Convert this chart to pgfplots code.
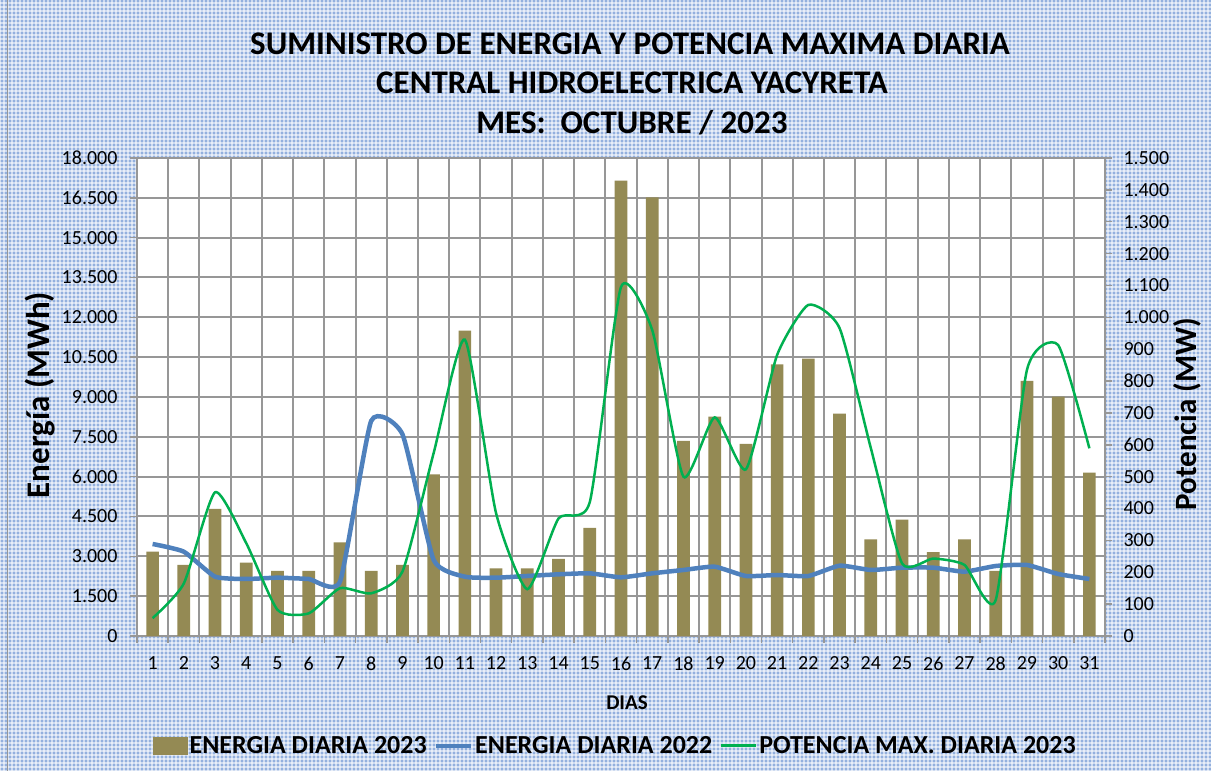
\documentclass[border=0pt]{standalone}
\usepackage{pgfplots}
\pgfplotsset{compat=1.18}
\usepackage{fontspec}
\setmainfont{Carlito}
\definecolor{barc}{HTML}{948A54}
\definecolor{blu}{HTML}{4F81BD}
\definecolor{grn}{HTML}{00B050}
\definecolor{gridc}{HTML}{979797}
\definecolor{bgblue}{HTML}{93B0DE}
\pgfplotstableread{
d e23 e22 p23
1 3175 3465 56
2 2674 3175 165
3 4783 2234 451
4 2761 2147 291
5 2448 2196 82
6 2448 2147 71
7 3528 2045 150
8 2448 8100 134
9 2674 7600 202
10 6089 2862 574
11 11500 2234 930
12 2549 2196 385
13 2549 2260 147
14 2900 2323 369
15 4067 2360 420
16 17150 2210 1095
17 16520 2360 960
18 7344 2486 500
19 8260 2610 686
20 7231 2260 523
21 10232 2297 882
22 10444 2260 1039
23 8373 2648 966
24 3640 2486 590
25 4381 2573 228
26 3163 2573 243
27 3640 2423 223
28 2448 2636 113
29 9603 2674 835
30 9013 2335 913
31 6150 2147 589
}\datatable
\begin{document}
\begin{tikzpicture}[x=1pt,y=1pt]
\fill[bgblue] (0,0) rectangle (1211,771);
\foreach \x in {0,4,...,1211} \draw[white, line width=1.2pt, opacity=0.55] (\x,0) -- (\x,771);
\foreach \y in {0,4,...,771} \draw[white, line width=1.2pt, opacity=0.55] (0,\y) -- (1211,\y);
\draw[gridc, line width=1pt] (7,0) -- (7,771);
\begin{axis}[
  at={(137pt,135pt)}, anchor=south west,
  width=968pt, height=478pt, scale only axis,
  xmin=0.5, xmax=31.5, ymin=0, ymax=18000,
  axis background/.style={fill=white},
  axis x line*=bottom, axis y line*=left,
  axis line style={gridc, line width=1.5pt},
  xtick={1,...,31},
  major x tick style={draw=none},
  minor xtick={0.5,1.5,...,31.5},
  xminorgrids, minor x grid style={gridc, line width=2pt},
  ytick={0,1500,...,18000},
  ymajorgrids, major y grid style={gridc, line width=2pt},
  tick align=outside,
  major tick length=7pt, minor tick length=7pt,
  tick style={gridc, line width=1.5pt},
  scaled y ticks=false,
  /pgf/number format/assume math mode=true,
  yticklabel={\pgfmathprintnumber[fixed,precision=0,1000 sep={.}]{\tick}},
  ticklabel style={font=\fontsize{20}{23}\selectfont},
  yticklabel style={xshift=-9pt},
  xticklabel style={yshift=-10pt},
  clip=false,
  legend style={at={(0.494,-0.23)}, anchor=center, draw=none, fill=none,
     font=\bfseries\fontsize{26}{30}\selectfont, legend columns=3,
     nodes={inner sep=2pt},
     /tikz/every even column/.append style={column sep=5pt}},
  legend cell align=left,
]
\addplot[ybar, bar width=12.7pt, bar shift=0pt, fill=barc, draw=none,
  legend image code/.code={\fill[barc] (0pt,-9pt) rectangle (35pt,9pt);}]
  table[x=d, y=e23] {\datatable};
\addlegendentry{ENERGIA DIARIA 2023}
\addplot[blu, line width=4.5pt, smooth, tension=0.3, no marks,
  legend image code/.code={\draw[blu, line width=4.5pt] (0pt,0pt) -- (35pt,0pt);}]
  table[x=d, y=e22] {\datatable};
\addlegendentry{ENERGIA DIARIA 2022}
\addlegendimage{grn, line width=2.5pt, legend image code/.code={\draw[grn, line width=3pt] (0pt,0pt) -- (35pt,0pt);}}
\addlegendentry{POTENCIA MAX. DIARIA 2023}
\end{axis}
\begin{axis}[
  at={(137pt,135pt)}, anchor=south west,
  width=968pt, height=478pt, scale only axis,
  xmin=0.5, xmax=31.5, ymin=0, ymax=1500,
  axis x line=none, axis y line*=right,
  axis line style={gridc, line width=1.5pt},
  ytick={0,100,...,1500},
  tick align=outside, major tick length=7pt,
  tick style={gridc, line width=1.5pt},
  scaled y ticks=false,
  /pgf/number format/assume math mode=true,
  yticklabel={\pgfmathprintnumber[fixed,precision=0,1000 sep={.}]{\tick}},
  ticklabel style={font=\fontsize{20}{23}\selectfont},
  yticklabel style={xshift=8pt},
]
\addplot[grn, line width=2.5pt, smooth, tension=0.35, no marks] table[x=d, y=p23] {\datatable};
\end{axis}
\node[font=\bfseries\fontsize{33}{36}\selectfont] at (630,727) {SUMINISTRO DE ENERGIA Y POTENCIA MAXIMA DIARIA};
\node[font=\bfseries\fontsize{33}{36}\selectfont] at (632,688) {CENTRAL HIDROELECTRICA YACYRETA};
\node[font=\bfseries\fontsize{33}{36}\selectfont] at (632,648) {MES:\ \ OCTUBRE / 2023};
\node[font=\bfseries\fontsize{33}{36}\selectfont, rotate=90] at (40,376) {Energía (MWh)};
\node[font=\bfseries\fontsize{31}{36}\selectfont, rotate=90] at (1187,357) {Potencia (MW)};
\node[font=\bfseries\fontsize{21}{24}\selectfont] at (627,68) {DIAS};
\pgfresetboundingbox
\path (0,0) rectangle (1211,771);
\end{tikzpicture}
\end{document}
